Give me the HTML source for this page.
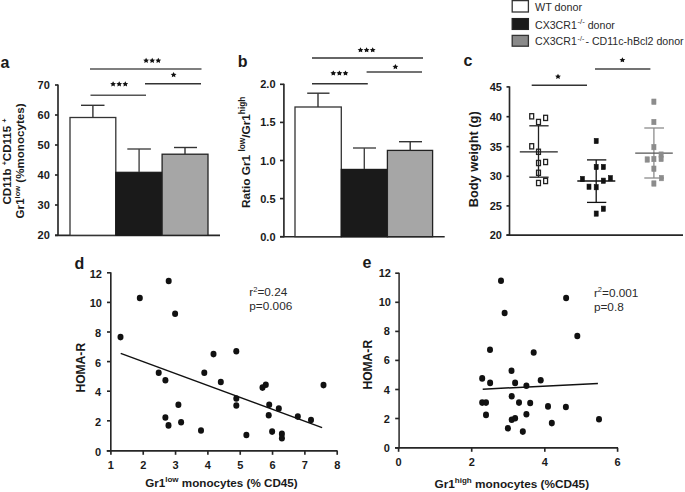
<!DOCTYPE html>
<html><head><meta charset="utf-8"><style>
html,body{margin:0;padding:0;background:#fff;}
body{width:685px;height:492px;overflow:hidden;position:relative;}
svg{position:absolute;left:0;top:0;font-family:"Liberation Sans",sans-serif;}
</style></head><body>
<svg width="685" height="492" viewBox="0 0 685 492">
<rect width="685" height="492" fill="#fff"/>
<text x="0.5" y="68" font-size="16" font-weight="bold" text-anchor="start" fill="#1a1a1a" >a</text>
<line x1="58" y1="84.5" x2="58" y2="235.8" stroke="#262626" stroke-width="1.65"/>
<line x1="55" y1="235.3" x2="220" y2="235.3" stroke="#262626" stroke-width="1.65"/>
<line x1="55" y1="85" x2="58" y2="85" stroke="#262626" stroke-width="1.65"/>
<text x="49.8" y="89" font-size="11" font-weight="bold" text-anchor="end" fill="#1a1a1a" >70</text>
<line x1="55" y1="115" x2="58" y2="115" stroke="#262626" stroke-width="1.65"/>
<text x="49.8" y="119" font-size="11" font-weight="bold" text-anchor="end" fill="#1a1a1a" >60</text>
<line x1="55" y1="145" x2="58" y2="145" stroke="#262626" stroke-width="1.65"/>
<text x="49.8" y="149" font-size="11" font-weight="bold" text-anchor="end" fill="#1a1a1a" >50</text>
<line x1="55" y1="175" x2="58" y2="175" stroke="#262626" stroke-width="1.65"/>
<text x="49.8" y="179" font-size="11" font-weight="bold" text-anchor="end" fill="#1a1a1a" >40</text>
<line x1="55" y1="205" x2="58" y2="205" stroke="#262626" stroke-width="1.65"/>
<text x="49.8" y="209" font-size="11" font-weight="bold" text-anchor="end" fill="#1a1a1a" >30</text>
<line x1="55" y1="235.3" x2="58" y2="235.3" stroke="#262626" stroke-width="1.65"/>
<text x="49.8" y="239.3" font-size="11" font-weight="bold" text-anchor="end" fill="#1a1a1a" >20</text>
<rect x="70" y="117.5" width="45.8" height="117.8" fill="#fff" stroke="#333" stroke-width="1.3"/>
<rect x="115.8" y="172.3" width="46.3" height="63" fill="#1a1a1a" stroke="#1a1a1a" stroke-width="1.2"/>
<rect x="162.1" y="154.2" width="45.9" height="81.1" fill="#a6a6a6" stroke="#222" stroke-width="1.3"/>
<line x1="92.9" y1="117.5" x2="92.9" y2="105.3" stroke="#333" stroke-width="1.4"/>
<line x1="81" y1="105.3" x2="104.5" y2="105.3" stroke="#333" stroke-width="1.4"/>
<line x1="139.1" y1="172" x2="139.1" y2="149" stroke="#444" stroke-width="1.4"/>
<line x1="127.3" y1="149" x2="150.9" y2="149" stroke="#444" stroke-width="1.4"/>
<line x1="185" y1="154" x2="185" y2="147.5" stroke="#333" stroke-width="1.4"/>
<line x1="174" y1="147.5" x2="197" y2="147.5" stroke="#333" stroke-width="1.4"/>
<line x1="90" y1="69" x2="201.5" y2="69" stroke="#555" stroke-width="1.5"/>
<line x1="145" y1="83.7" x2="201" y2="83.7" stroke="#333" stroke-width="1.5"/>
<line x1="90.5" y1="95.3" x2="146" y2="95.3" stroke="#555" stroke-width="1.5"/>
<polygon points="146.10,57.83 147.01,59.50 149.00,59.79 147.57,61.12 147.89,62.97 146.10,62.11 144.31,62.97 144.63,61.12 143.20,59.79 145.19,59.50" fill="#111"/>
<polygon points="152.20,57.83 153.11,59.50 155.10,59.79 153.67,61.12 153.99,62.97 152.20,62.11 150.41,62.97 150.73,61.12 149.30,59.79 151.29,59.50" fill="#111"/>
<polygon points="158.30,57.83 159.21,59.50 161.20,59.79 159.77,61.12 160.09,62.97 158.30,62.11 156.51,62.97 156.83,61.12 155.40,59.79 157.39,59.50" fill="#111"/>
<polygon points="173.60,72.03 174.51,73.70 176.50,73.99 175.07,75.32 175.39,77.17 173.60,76.31 171.81,77.17 172.13,75.32 170.70,73.99 172.69,73.70" fill="#111"/>
<polygon points="113.10,81.28 114.01,82.95 116.00,83.24 114.57,84.57 114.89,86.42 113.10,85.56 111.31,86.42 111.63,84.57 110.20,83.24 112.19,82.95" fill="#111"/>
<polygon points="119.20,81.28 120.11,82.95 122.10,83.24 120.67,84.57 120.99,86.42 119.20,85.56 117.41,86.42 117.73,84.57 116.30,83.24 118.29,82.95" fill="#111"/>
<polygon points="125.30,81.28 126.21,82.95 128.20,83.24 126.77,84.57 127.09,86.42 125.30,85.56 123.51,86.42 123.83,84.57 122.40,83.24 124.39,82.95" fill="#111"/>
<text transform="translate(10.6,204.6) rotate(-90)" font-size="11.6" font-weight="bold" fill="#1a1a1a">CD11b <tspan font-size="7" dy="-4">+</tspan><tspan dy="4">CD115 </tspan><tspan font-size="7" dy="-4">+</tspan></text>
<text transform="translate(24.3,218.4) rotate(-90)" font-size="11.6" font-weight="bold" fill="#1a1a1a">Gr1<tspan font-size="7.5" dy="-4.5">low</tspan><tspan dy="4.5"> (%monocytes)</tspan></text>
<text x="237.8" y="67.4" font-size="16" font-weight="bold" text-anchor="start" fill="#1a1a1a" >b</text>
<line x1="283.9" y1="83.8" x2="283.9" y2="237.2" stroke="#262626" stroke-width="1.65"/>
<line x1="280" y1="236.7" x2="444.7" y2="236.7" stroke="#262626" stroke-width="1.65"/>
<line x1="280" y1="84.3" x2="283.9" y2="84.3" stroke="#262626" stroke-width="1.65"/>
<text x="275.5" y="88.3" font-size="11" font-weight="bold" text-anchor="end" fill="#1a1a1a" >2.0</text>
<line x1="280" y1="122.4" x2="283.9" y2="122.4" stroke="#262626" stroke-width="1.65"/>
<text x="275.5" y="126.4" font-size="11" font-weight="bold" text-anchor="end" fill="#1a1a1a" >1.5</text>
<line x1="280" y1="160.5" x2="283.9" y2="160.5" stroke="#262626" stroke-width="1.65"/>
<text x="275.5" y="164.5" font-size="11" font-weight="bold" text-anchor="end" fill="#1a1a1a" >1.0</text>
<line x1="280" y1="198.6" x2="283.9" y2="198.6" stroke="#262626" stroke-width="1.65"/>
<text x="275.5" y="202.6" font-size="11" font-weight="bold" text-anchor="end" fill="#1a1a1a" >0.5</text>
<line x1="280" y1="236.7" x2="283.9" y2="236.7" stroke="#262626" stroke-width="1.65"/>
<text x="275.5" y="240.7" font-size="11" font-weight="bold" text-anchor="end" fill="#1a1a1a" >0.0</text>
<rect x="295" y="107" width="46.3" height="129.7" fill="#fff" stroke="#333" stroke-width="1.3"/>
<rect x="341.3" y="169.4" width="46.1" height="67.3" fill="#1a1a1a" stroke="#1a1a1a" stroke-width="1.2"/>
<rect x="387.4" y="150.4" width="45.2" height="86.3" fill="#a6a6a6" stroke="#222" stroke-width="1.3"/>
<line x1="318" y1="107" x2="318" y2="93.2" stroke="#333" stroke-width="1.4"/>
<line x1="307.2" y1="93.2" x2="329.5" y2="93.2" stroke="#333" stroke-width="1.4"/>
<line x1="364.3" y1="169" x2="364.3" y2="148" stroke="#444" stroke-width="1.4"/>
<line x1="353" y1="148" x2="376" y2="148" stroke="#444" stroke-width="1.4"/>
<line x1="410.2" y1="150.4" x2="410.2" y2="141.7" stroke="#333" stroke-width="1.4"/>
<line x1="399" y1="141.7" x2="422" y2="141.7" stroke="#333" stroke-width="1.4"/>
<line x1="312" y1="58" x2="423" y2="58" stroke="#333" stroke-width="1.5"/>
<line x1="366.6" y1="72" x2="422" y2="72" stroke="#444" stroke-width="1.5"/>
<line x1="312" y1="83.7" x2="367.8" y2="83.7" stroke="#333" stroke-width="1.5"/>
<polygon points="360.50,47.23 361.41,48.90 363.40,49.19 361.97,50.52 362.29,52.37 360.50,51.51 358.71,52.37 359.03,50.52 357.60,49.19 359.59,48.90" fill="#111"/>
<polygon points="366.60,47.23 367.51,48.90 369.50,49.19 368.07,50.52 368.39,52.37 366.60,51.51 364.81,52.37 365.13,50.52 363.70,49.19 365.69,48.90" fill="#111"/>
<polygon points="372.70,47.23 373.61,48.90 375.60,49.19 374.17,50.52 374.49,52.37 372.70,51.51 370.91,52.37 371.23,50.52 369.80,49.19 371.79,48.90" fill="#111"/>
<polygon points="395.40,64.03 396.31,65.70 398.30,65.99 396.87,67.32 397.19,69.17 395.40,68.31 393.61,69.17 393.93,67.32 392.50,65.99 394.49,65.70" fill="#111"/>
<polygon points="333.30,70.43 334.21,72.10 336.20,72.39 334.77,73.72 335.09,75.57 333.30,74.71 331.51,75.57 331.83,73.72 330.40,72.39 332.39,72.10" fill="#111"/>
<polygon points="339.40,70.43 340.31,72.10 342.30,72.39 340.87,73.72 341.19,75.57 339.40,74.71 337.61,75.57 337.93,73.72 336.50,72.39 338.49,72.10" fill="#111"/>
<polygon points="345.50,70.43 346.41,72.10 348.40,72.39 346.97,73.72 347.29,75.57 345.50,74.71 343.71,75.57 344.03,73.72 342.60,72.39 344.59,72.10" fill="#111"/>
<text transform="translate(250.2,208) rotate(-90)" font-size="11.8" font-weight="bold" fill="#1a1a1a">Ratio Gr1 <tspan font-size="8.3" dy="-5.5">low</tspan><tspan dy="5.5">/Gr1</tspan><tspan font-size="8.3" dy="-5.5">high</tspan></text>
<rect x="512.2" y="0.6" width="16.2" height="11.4" fill="#fff" stroke="#333" stroke-width="1.3"/>
<rect x="512.2" y="18.6" width="16.2" height="10.8" fill="#1a1a1a" stroke="#222" stroke-width="1.3"/>
<rect x="512.2" y="35.4" width="16.2" height="10.8" fill="#8a8a8a" stroke="#333" stroke-width="1.3"/>
<text x="535" y="11" font-size="10.8" font-weight="normal" text-anchor="start" fill="#2a2a2a" >WT donor</text>
<text x="535" y="28.5" font-size="10.6" fill="#2a2a2a">CX3CR1<tspan font-size="7.8" dy="-4.3" dx="0.6">-/-</tspan><tspan dy="4.3"> donor</tspan></text>
<text x="535" y="44.8" font-size="10.6" fill="#2a2a2a">CX3CR1<tspan font-size="7" dy="-4.3" dx="0.8">-/-</tspan><tspan dy="4.3" dx="1.2">- CD11c-hBcl2 donor</tspan></text>
<text x="463.5" y="66" font-size="16" font-weight="bold" text-anchor="start" fill="#1a1a1a" >c</text>
<line x1="509.5" y1="86.4" x2="509.5" y2="235.6" stroke="#262626" stroke-width="1.65"/>
<line x1="506.5" y1="235.1" x2="683" y2="235.1" stroke="#262626" stroke-width="1.65"/>
<line x1="506.5" y1="86.9" x2="509.5" y2="86.9" stroke="#262626" stroke-width="1.65"/>
<text x="502" y="90.9" font-size="11" font-weight="bold" text-anchor="end" fill="#1a1a1a" >45</text>
<line x1="506.5" y1="116.7" x2="509.5" y2="116.7" stroke="#262626" stroke-width="1.65"/>
<text x="502" y="120.7" font-size="11" font-weight="bold" text-anchor="end" fill="#1a1a1a" >40</text>
<line x1="506.5" y1="146.6" x2="509.5" y2="146.6" stroke="#262626" stroke-width="1.65"/>
<text x="502" y="150.6" font-size="11" font-weight="bold" text-anchor="end" fill="#1a1a1a" >35</text>
<line x1="506.5" y1="176.3" x2="509.5" y2="176.3" stroke="#262626" stroke-width="1.65"/>
<text x="502" y="180.3" font-size="11" font-weight="bold" text-anchor="end" fill="#1a1a1a" >30</text>
<line x1="506.5" y1="205.9" x2="509.5" y2="205.9" stroke="#262626" stroke-width="1.65"/>
<text x="502" y="209.9" font-size="11" font-weight="bold" text-anchor="end" fill="#1a1a1a" >25</text>
<line x1="506.5" y1="235.1" x2="509.5" y2="235.1" stroke="#262626" stroke-width="1.65"/>
<text x="502" y="239.1" font-size="11" font-weight="bold" text-anchor="end" fill="#1a1a1a" >20</text>
<line x1="531.7" y1="85.2" x2="587" y2="85.2" stroke="#333" stroke-width="1.5"/>
<line x1="595" y1="69.1" x2="650.4" y2="69.1" stroke="#444" stroke-width="1.5"/>
<polygon points="558.00,73.83 558.91,75.50 560.90,75.79 559.47,77.12 559.79,78.97 558.00,78.11 556.21,78.97 556.53,77.12 555.10,75.79 557.09,75.50" fill="#111"/>
<polygon points="622.40,57.23 623.31,58.90 625.30,59.19 623.87,60.52 624.19,62.37 622.40,61.51 620.61,62.37 620.93,60.52 619.50,59.19 621.49,58.90" fill="#111"/>
<text transform="translate(477.6,207.3) rotate(-90)" font-size="12.8" font-weight="bold" fill="#1a1a1a">Body weight (g)</text>
<line x1="538.5" y1="125.8" x2="538.5" y2="177.2" stroke="#222" stroke-width="1.3"/>
<line x1="529.3" y1="125.8" x2="548.6" y2="125.8" stroke="#222" stroke-width="1.3"/>
<line x1="529.3" y1="177.2" x2="548.6" y2="177.2" stroke="#222" stroke-width="1.3"/>
<line x1="519.8" y1="151.8" x2="557.8" y2="151.8" stroke="#222" stroke-width="1.3"/>
<rect x="529.75" y="113.70" width="3.9" height="5.2" fill="none" stroke="#222" stroke-width="1.3"/>
<rect x="536.55" y="119.40" width="3.9" height="5.2" fill="none" stroke="#222" stroke-width="1.3"/>
<rect x="543.65" y="115.30" width="3.9" height="5.2" fill="none" stroke="#222" stroke-width="1.3"/>
<rect x="529.75" y="143.70" width="3.9" height="5.2" fill="none" stroke="#222" stroke-width="1.3"/>
<rect x="536.55" y="149.20" width="3.9" height="5.2" fill="none" stroke="#222" stroke-width="1.3"/>
<rect x="536.55" y="160.40" width="3.9" height="5.2" fill="none" stroke="#222" stroke-width="1.3"/>
<rect x="543.65" y="159.40" width="3.9" height="5.2" fill="none" stroke="#222" stroke-width="1.3"/>
<rect x="536.55" y="170.20" width="3.9" height="5.2" fill="none" stroke="#222" stroke-width="1.3"/>
<rect x="536.55" y="180.40" width="3.9" height="5.2" fill="none" stroke="#222" stroke-width="1.3"/>
<rect x="543.65" y="178.40" width="3.9" height="5.2" fill="none" stroke="#222" stroke-width="1.3"/>
<line x1="596.2" y1="159.9" x2="596.2" y2="202.4" stroke="#111" stroke-width="1.3"/>
<line x1="587" y1="159.9" x2="606.3" y2="159.9" stroke="#111" stroke-width="1.3"/>
<line x1="587" y1="202.4" x2="606.3" y2="202.4" stroke="#111" stroke-width="1.3"/>
<line x1="577.3" y1="181" x2="615.3" y2="181" stroke="#111" stroke-width="1.3"/>
<rect x="594.20" y="138.40" width="4.0" height="5.2" fill="#111" stroke="#111" stroke-width="0.6"/>
<rect x="594.20" y="164.40" width="4.0" height="5.2" fill="#111" stroke="#111" stroke-width="0.6"/>
<rect x="601.30" y="164.40" width="4.0" height="5.2" fill="#111" stroke="#111" stroke-width="0.6"/>
<rect x="580.40" y="176.40" width="4.0" height="5.2" fill="#111" stroke="#111" stroke-width="0.6"/>
<rect x="601.30" y="178.10" width="4.0" height="5.2" fill="#111" stroke="#111" stroke-width="0.6"/>
<rect x="608.40" y="175.60" width="4.0" height="5.2" fill="#111" stroke="#111" stroke-width="0.6"/>
<rect x="587.00" y="184.10" width="4.0" height="5.2" fill="#111" stroke="#111" stroke-width="0.6"/>
<rect x="594.20" y="184.60" width="4.0" height="5.2" fill="#111" stroke="#111" stroke-width="0.6"/>
<rect x="601.30" y="206.10" width="4.0" height="5.2" fill="#111" stroke="#111" stroke-width="0.6"/>
<rect x="594.20" y="211.00" width="4.0" height="5.2" fill="#111" stroke="#111" stroke-width="0.6"/>
<line x1="653.9" y1="128" x2="653.9" y2="178" stroke="#8c8c8c" stroke-width="1.3"/>
<line x1="644.3" y1="128" x2="664" y2="128" stroke="#8c8c8c" stroke-width="1.3"/>
<line x1="644.3" y1="178" x2="664" y2="178" stroke="#8c8c8c" stroke-width="1.3"/>
<line x1="635.2" y1="153.2" x2="672.8" y2="153.2" stroke="#555" stroke-width="1.3"/>
<rect x="651.80" y="99.00" width="4.2" height="5.4" fill="#8c8c8c" stroke="#8c8c8c" stroke-width="0.6"/>
<rect x="651.80" y="119.30" width="4.2" height="5.4" fill="#8c8c8c" stroke="#8c8c8c" stroke-width="0.6"/>
<rect x="651.80" y="144.40" width="4.2" height="5.4" fill="#8c8c8c" stroke="#8c8c8c" stroke-width="0.6"/>
<rect x="659.00" y="151.90" width="4.2" height="5.4" fill="#8c8c8c" stroke="#8c8c8c" stroke-width="0.6"/>
<rect x="659.00" y="156.20" width="4.2" height="5.4" fill="#8c8c8c" stroke="#8c8c8c" stroke-width="0.6"/>
<rect x="645.10" y="156.80" width="4.2" height="5.4" fill="#8c8c8c" stroke="#8c8c8c" stroke-width="0.6"/>
<rect x="651.80" y="156.30" width="4.2" height="5.4" fill="#8c8c8c" stroke="#8c8c8c" stroke-width="0.6"/>
<rect x="651.80" y="166.00" width="4.2" height="5.4" fill="#8c8c8c" stroke="#8c8c8c" stroke-width="0.6"/>
<rect x="659.30" y="175.40" width="4.2" height="5.4" fill="#8c8c8c" stroke="#8c8c8c" stroke-width="0.6"/>
<rect x="651.80" y="180.80" width="4.2" height="5.4" fill="#8c8c8c" stroke="#8c8c8c" stroke-width="0.6"/>
<text x="74.6" y="268.7" font-size="16" font-weight="bold" text-anchor="start" fill="#1a1a1a" >d</text>
<line x1="110.8" y1="272.3" x2="110.8" y2="451.3" stroke="#262626" stroke-width="1.65"/>
<line x1="106.7" y1="450.8" x2="337.5" y2="450.8" stroke="#262626" stroke-width="1.65"/>
<line x1="107" y1="272.8" x2="110.8" y2="272.8" stroke="#262626" stroke-width="1.65"/>
<text x="102" y="277.8" font-size="11" font-weight="bold" text-anchor="end" fill="#1a1a1a" >12</text>
<line x1="107" y1="302.4" x2="110.8" y2="302.4" stroke="#262626" stroke-width="1.65"/>
<text x="102" y="307.4" font-size="11" font-weight="bold" text-anchor="end" fill="#1a1a1a" >10</text>
<line x1="107" y1="332" x2="110.8" y2="332" stroke="#262626" stroke-width="1.65"/>
<text x="101" y="337" font-size="11" font-weight="bold" text-anchor="end" fill="#1a1a1a" >8</text>
<line x1="107" y1="361.6" x2="110.8" y2="361.6" stroke="#262626" stroke-width="1.65"/>
<text x="101" y="366.6" font-size="11" font-weight="bold" text-anchor="end" fill="#1a1a1a" >6</text>
<line x1="107" y1="391.2" x2="110.8" y2="391.2" stroke="#262626" stroke-width="1.65"/>
<text x="101" y="396.2" font-size="11" font-weight="bold" text-anchor="end" fill="#1a1a1a" >4</text>
<line x1="107" y1="420.8" x2="110.8" y2="420.8" stroke="#262626" stroke-width="1.65"/>
<text x="101" y="425.8" font-size="11" font-weight="bold" text-anchor="end" fill="#1a1a1a" >2</text>
<line x1="107" y1="450.8" x2="110.8" y2="450.8" stroke="#262626" stroke-width="1.65"/>
<text x="101" y="455.8" font-size="11" font-weight="bold" text-anchor="end" fill="#1a1a1a" >0</text>
<line x1="110.9" y1="450.8" x2="110.9" y2="454.8" stroke="#262626" stroke-width="1.65"/>
<text x="110.9" y="469" font-size="11" font-weight="bold" text-anchor="middle" fill="#1a1a1a" >1</text>
<line x1="143.23000000000002" y1="450.8" x2="143.23000000000002" y2="454.8" stroke="#262626" stroke-width="1.65"/>
<text x="143.23000000000002" y="469" font-size="11" font-weight="bold" text-anchor="middle" fill="#1a1a1a" >2</text>
<line x1="175.56" y1="450.8" x2="175.56" y2="454.8" stroke="#262626" stroke-width="1.65"/>
<text x="175.56" y="469" font-size="11" font-weight="bold" text-anchor="middle" fill="#1a1a1a" >3</text>
<line x1="207.89" y1="450.8" x2="207.89" y2="454.8" stroke="#262626" stroke-width="1.65"/>
<text x="207.89" y="469" font-size="11" font-weight="bold" text-anchor="middle" fill="#1a1a1a" >4</text>
<line x1="240.22" y1="450.8" x2="240.22" y2="454.8" stroke="#262626" stroke-width="1.65"/>
<text x="240.22" y="469" font-size="11" font-weight="bold" text-anchor="middle" fill="#1a1a1a" >5</text>
<line x1="272.54999999999995" y1="450.8" x2="272.54999999999995" y2="454.8" stroke="#262626" stroke-width="1.65"/>
<text x="272.54999999999995" y="469" font-size="11" font-weight="bold" text-anchor="middle" fill="#1a1a1a" >6</text>
<line x1="304.88" y1="450.8" x2="304.88" y2="454.8" stroke="#262626" stroke-width="1.65"/>
<text x="304.88" y="469" font-size="11" font-weight="bold" text-anchor="middle" fill="#1a1a1a" >7</text>
<line x1="337.21000000000004" y1="450.8" x2="337.21000000000004" y2="454.8" stroke="#262626" stroke-width="1.65"/>
<text x="337.21000000000004" y="469" font-size="11" font-weight="bold" text-anchor="middle" fill="#1a1a1a" >8</text>
<text transform="translate(84.5,392.6) rotate(-90)" font-size="12.1" font-weight="bold" fill="#1a1a1a">HOMA-R</text>
<text x="145.2" y="487.2" font-size="11.65" font-weight="bold" fill="#1a1a1a">Gr1<tspan font-size="8" dy="-5.5">low</tspan><tspan dy="5.5"> monocytes (% CD45)</tspan></text>
<line x1="120.7" y1="353.4" x2="322.1" y2="427.6" stroke="#111" stroke-width="1.5"/>
<ellipse cx="168.7" cy="281.0" rx="3.0" ry="3.3" fill="#111"/>
<ellipse cx="139.8" cy="298.0" rx="3.0" ry="3.3" fill="#111"/>
<ellipse cx="175.1" cy="313.8" rx="3.0" ry="3.3" fill="#111"/>
<ellipse cx="120.5" cy="337.1" rx="3.0" ry="3.3" fill="#111"/>
<ellipse cx="213.5" cy="354.1" rx="3.0" ry="3.3" fill="#111"/>
<ellipse cx="158.7" cy="372.8" rx="3.0" ry="3.3" fill="#111"/>
<ellipse cx="165.4" cy="380.2" rx="3.0" ry="3.3" fill="#111"/>
<ellipse cx="204.3" cy="372.8" rx="3.0" ry="3.3" fill="#111"/>
<ellipse cx="220.8" cy="382.0" rx="3.0" ry="3.3" fill="#111"/>
<ellipse cx="178.4" cy="404.8" rx="3.0" ry="3.3" fill="#111"/>
<ellipse cx="165.4" cy="417.5" rx="3.0" ry="3.3" fill="#111"/>
<ellipse cx="168.5" cy="425.4" rx="3.0" ry="3.3" fill="#111"/>
<ellipse cx="181.1" cy="422.2" rx="3.0" ry="3.3" fill="#111"/>
<ellipse cx="201.0" cy="430.5" rx="3.0" ry="3.3" fill="#111"/>
<ellipse cx="236.3" cy="351.2" rx="3.0" ry="3.3" fill="#111"/>
<ellipse cx="265.8" cy="384.7" rx="3.0" ry="3.3" fill="#111"/>
<ellipse cx="262.5" cy="387.6" rx="3.0" ry="3.3" fill="#111"/>
<ellipse cx="323.5" cy="385.1" rx="3.0" ry="3.3" fill="#111"/>
<ellipse cx="236.3" cy="398.5" rx="3.0" ry="3.3" fill="#111"/>
<ellipse cx="236.3" cy="405.5" rx="3.0" ry="3.3" fill="#111"/>
<ellipse cx="269.2" cy="404.8" rx="3.0" ry="3.3" fill="#111"/>
<ellipse cx="278.8" cy="408.6" rx="3.0" ry="3.3" fill="#111"/>
<ellipse cx="268.7" cy="415.3" rx="3.0" ry="3.3" fill="#111"/>
<ellipse cx="297.8" cy="416.6" rx="3.0" ry="3.3" fill="#111"/>
<ellipse cx="311.0" cy="420.0" rx="3.0" ry="3.3" fill="#111"/>
<ellipse cx="246.4" cy="435.0" rx="3.0" ry="3.3" fill="#111"/>
<ellipse cx="272.1" cy="431.6" rx="3.0" ry="3.3" fill="#111"/>
<ellipse cx="281.9" cy="433.9" rx="3.0" ry="3.3" fill="#111"/>
<ellipse cx="281.9" cy="438.3" rx="3.0" ry="3.3" fill="#111"/>
<text x="249.3" y="296" font-size="11.8" fill="#2a2a2a">r<tspan font-size="7.5" dy="-4.5">2</tspan><tspan dy="4.5">=0.24</tspan></text>
<text x="249.3" y="310.3" font-size="11.8" fill="#2a2a2a">p=0.006</text>
<text x="362.5" y="268.3" font-size="16" font-weight="bold" text-anchor="start" fill="#1a1a1a" >e</text>
<line x1="399.1" y1="272.7" x2="399.1" y2="448.3" stroke="#3a3a3a" stroke-width="1.65"/>
<line x1="395" y1="447.8" x2="618" y2="447.8" stroke="#262626" stroke-width="1.65"/>
<line x1="395.2" y1="273.2" x2="399.1" y2="273.2" stroke="#262626" stroke-width="1.65"/>
<text x="391" y="277.2" font-size="11" font-weight="bold" text-anchor="end" fill="#1a1a1a" >12</text>
<line x1="395.2" y1="302.3" x2="399.1" y2="302.3" stroke="#262626" stroke-width="1.65"/>
<text x="391" y="306.3" font-size="11" font-weight="bold" text-anchor="end" fill="#1a1a1a" >10</text>
<line x1="395.2" y1="331.4" x2="399.1" y2="331.4" stroke="#262626" stroke-width="1.65"/>
<text x="389.8" y="335.4" font-size="11" font-weight="bold" text-anchor="end" fill="#1a1a1a" >8</text>
<line x1="395.2" y1="360.4" x2="399.1" y2="360.4" stroke="#262626" stroke-width="1.65"/>
<text x="389.8" y="364.4" font-size="11" font-weight="bold" text-anchor="end" fill="#1a1a1a" >6</text>
<line x1="395.2" y1="389.5" x2="399.1" y2="389.5" stroke="#262626" stroke-width="1.65"/>
<text x="389.8" y="393.5" font-size="11" font-weight="bold" text-anchor="end" fill="#1a1a1a" >4</text>
<line x1="395.2" y1="418.5" x2="399.1" y2="418.5" stroke="#262626" stroke-width="1.65"/>
<text x="389.8" y="422.5" font-size="11" font-weight="bold" text-anchor="end" fill="#1a1a1a" >2</text>
<line x1="395.2" y1="447.8" x2="399.1" y2="447.8" stroke="#262626" stroke-width="1.65"/>
<text x="389.8" y="451.8" font-size="11" font-weight="bold" text-anchor="end" fill="#1a1a1a" >0</text>
<line x1="398.6" y1="447.8" x2="398.6" y2="451.8" stroke="#262626" stroke-width="1.65"/>
<text x="398.6" y="466" font-size="11" font-weight="bold" text-anchor="middle" fill="#1a1a1a" >0</text>
<line x1="471.7" y1="447.8" x2="471.7" y2="451.8" stroke="#262626" stroke-width="1.65"/>
<text x="471.7" y="466" font-size="11" font-weight="bold" text-anchor="middle" fill="#1a1a1a" >2</text>
<line x1="544.8" y1="447.8" x2="544.8" y2="451.8" stroke="#262626" stroke-width="1.65"/>
<text x="544.8" y="466" font-size="11" font-weight="bold" text-anchor="middle" fill="#1a1a1a" >4</text>
<line x1="617.6" y1="447.8" x2="617.6" y2="451.8" stroke="#262626" stroke-width="1.65"/>
<text x="617.6" y="466" font-size="11" font-weight="bold" text-anchor="middle" fill="#1a1a1a" >6</text>
<text transform="translate(372.3,389.6) rotate(-90)" font-size="12.1" font-weight="bold" fill="#1a1a1a">HOMA-R</text>
<text x="434.5" y="488" font-size="11.8" font-weight="bold" fill="#1a1a1a">Gr1<tspan font-size="8" dy="-5.5">high</tspan><tspan dy="5.5"> monocytes (%CD45)</tspan></text>
<line x1="482.7" y1="389.2" x2="597.9" y2="383.6" stroke="#111" stroke-width="1.5"/>
<ellipse cx="501.0" cy="280.8" rx="3.0" ry="3.3" fill="#111"/>
<ellipse cx="504.6" cy="313.0" rx="3.0" ry="3.3" fill="#111"/>
<ellipse cx="490.0" cy="349.8" rx="3.0" ry="3.3" fill="#111"/>
<ellipse cx="533.7" cy="352.5" rx="3.0" ry="3.3" fill="#111"/>
<ellipse cx="566.1" cy="298.0" rx="3.0" ry="3.3" fill="#111"/>
<ellipse cx="577.3" cy="336.0" rx="3.0" ry="3.3" fill="#111"/>
<ellipse cx="482.2" cy="378.4" rx="3.0" ry="3.3" fill="#111"/>
<ellipse cx="490.1" cy="382.9" rx="3.0" ry="3.3" fill="#111"/>
<ellipse cx="511.5" cy="370.8" rx="3.0" ry="3.3" fill="#111"/>
<ellipse cx="515.1" cy="382.9" rx="3.0" ry="3.3" fill="#111"/>
<ellipse cx="511.7" cy="396.3" rx="3.0" ry="3.3" fill="#111"/>
<ellipse cx="482.2" cy="402.6" rx="3.0" ry="3.3" fill="#111"/>
<ellipse cx="486.0" cy="402.6" rx="3.0" ry="3.3" fill="#111"/>
<ellipse cx="486.0" cy="414.9" rx="3.0" ry="3.3" fill="#111"/>
<ellipse cx="519.0" cy="402.6" rx="3.0" ry="3.3" fill="#111"/>
<ellipse cx="511.7" cy="419.8" rx="3.0" ry="3.3" fill="#111"/>
<ellipse cx="515.1" cy="418.2" rx="3.0" ry="3.3" fill="#111"/>
<ellipse cx="507.9" cy="428.3" rx="3.0" ry="3.3" fill="#111"/>
<ellipse cx="526.4" cy="385.8" rx="3.0" ry="3.3" fill="#111"/>
<ellipse cx="540.7" cy="380.2" rx="3.0" ry="3.3" fill="#111"/>
<ellipse cx="530.2" cy="403.0" rx="3.0" ry="3.3" fill="#111"/>
<ellipse cx="548.0" cy="406.4" rx="3.0" ry="3.3" fill="#111"/>
<ellipse cx="565.9" cy="407.0" rx="3.0" ry="3.3" fill="#111"/>
<ellipse cx="526.4" cy="414.2" rx="3.0" ry="3.3" fill="#111"/>
<ellipse cx="522.8" cy="431.6" rx="3.0" ry="3.3" fill="#111"/>
<ellipse cx="551.8" cy="423.1" rx="3.0" ry="3.3" fill="#111"/>
<ellipse cx="599.0" cy="419.3" rx="3.0" ry="3.3" fill="#111"/>
<text x="593.9" y="296.8" font-size="11.8" fill="#2a2a2a">r<tspan font-size="7.5" dy="-4.5">2</tspan><tspan dy="4.5">=0.001</tspan></text>
<text x="593.9" y="310.9" font-size="11.8" fill="#2a2a2a">p=0.8</text>
</svg>
</body></html>
